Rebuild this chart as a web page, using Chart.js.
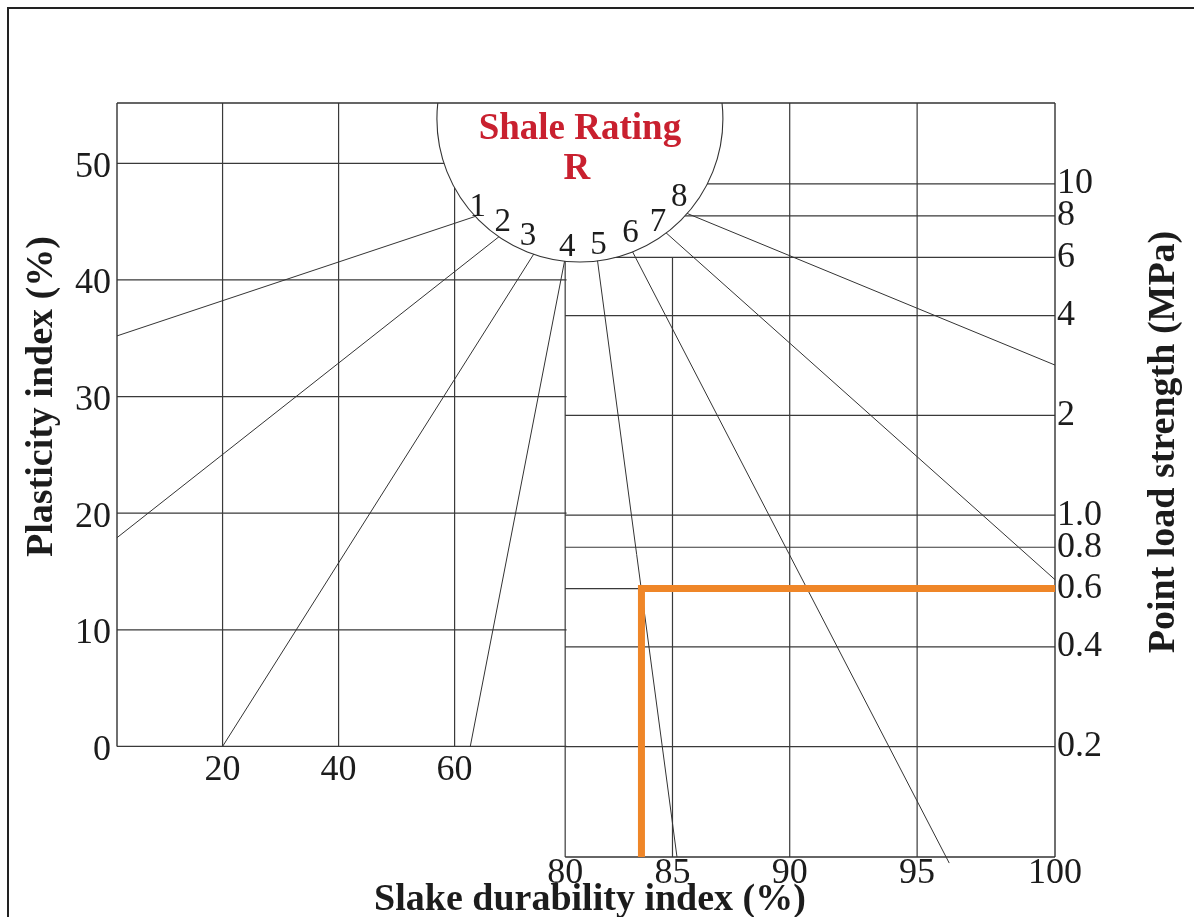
<!DOCTYPE html>
<html>
<head>
<meta charset="utf-8">
<title>Shale rating chart</title>
<script src="https://cdn.jsdelivr.net/npm/chart.js@4.4.1/dist/chart.umd.min.js"></script>
<style>
  html, body { margin: 0; padding: 0; background: #fff; overflow: hidden; }
  #wrap { position: relative; width: 1194px; height: 917px; }
  #frame { position: absolute; left: 7px; top: 7px; right: -6px; bottom: -6px;
           border-left: 2px solid #222; border-top: 2px solid #222; pointer-events: none; }
</style>
</head>
<body>
<div id="wrap">
  <canvas id="shaleChart" width="1194" height="917"></canvas>
  <div id="frame"></div>
</div>
<script>
// values
const piTicks = [0, 10, 20, 30, 40, 50];                  // plasticity index (%)
const slakeTicksLeft = [20, 40, 60];                       // slake durability, compressed part
const slakeTicksRight = [80, 85, 90, 95, 100];             // slake durability, expanded part
const pointLoadTicks = [0.2, 0.4, 0.6, 0.8, 1.0, 2, 4, 6, 8, 10];   // MPa
const pointLoadLabels = ['0.2', '0.4', '0.6', '0.8', '1.0', '2', '4', '6', '8', '10'];

// axis ranges of the drawing
const slakeLeftRange = [1.8, 163.5];
const slakeRightRange = [50.5, 100];
const piRange = [-9.48, 55.17];
const pointLoadRange = [0.0929, 17.54];

// shale rating R = 1..8 : lines from the arc to the axes
// R 1-4 are on the left slake scale, R 5-8 on the right one
const ratings = [1, 2, 3, 4, 5, 6, 7, 8];
const ratingStart = [[63.9, 45.5], [68.4, 44.0], [74.0, 42.5], [79.1, 42.0],
                     [81.5, 42.4], [83.0, 43.1], [84.5, 44.4], [85.4, 45.9]];
const ratingEnd = [[1.8, 35.2], [1.8, 17.9], [20, 0], [62.7, 0],
                   [85.2, -9.48], [96.2, -10], [100, 14.3], [100, 32.7]];
const ratingLabelAt = [[64.0, 46.2], [68.3, 44.9], [72.65, 43.7], [79.4, 42.8],
                       [81.6, 43.0], [83.1, 44.0], [84.35, 44.9], [85.3, 47.1]];
const arcCentre = [81.6, 53.8];

// worked example (orange)
const exampleSlake = 83.6;
const examplePointLoad = 0.6;

const slakeWarp = 2.5;   // the expanded slake scale is not linear
const serif = "'Liberation Serif', 'Times New Roman', serif";

class PowerScale extends Chart.LinearScale {
  static id = 'power';
  static defaults = {};
  getPixelForValue(value) {
    if (value === null || value === undefined || isNaN(value)) return NaN;
    const a = Math.pow(this.min, slakeWarp), b = Math.pow(this.max, slakeWarp);
    return this.getPixelForDecimal((Math.pow(value, slakeWarp) - a) / (b - a));
  }
  getValueForPixel(pixel) {
    const a = Math.pow(this.min, slakeWarp), b = Math.pow(this.max, slakeWarp);
    return Math.pow(a + this.getDecimalForPixel(pixel) * (b - a), 1 / slakeWarp);
  }
}
Chart.register(PowerScale);

// list of [[x1,y1],[x2,y2]] -> one dataset with gaps
function segments(list) {
  const out = [];
  list.forEach(s => {
    out.push({x: s[0][0], y: s[0][1]}, {x: s[1][0], y: s[1][1]}, {x: null, y: null});
  });
  return out;
}

const leftEdge = slakeLeftRange[0];
const piTop = piRange[1], piBottom = piRange[0];
const leftPanelEnd = 79.3;   // plasticity lines stop at the 80 % divider

const gridLeft = segments(
  piTicks.map(v => [[leftEdge, v], [leftPanelEnd, v]])
    .concat(slakeTicksLeft.map(v => [[v, 0], [v, piTop]]))
);
const gridRightTall = segments(
  slakeTicksRight.filter(v => v !== 85 && v !== 100).map(v => [[v, piBottom], [v, piTop]])
);
const gridRightShort = segments([[[85, pointLoadRange[0]], [85, 6]]]);
const gridPointLoad = segments(pointLoadTicks.map(v => [[80, v], [100, v]]));

const ratingLeft = segments(ratings.slice(0, 4).map((r, i) => [ratingStart[i], ratingEnd[i]]));
const ratingRight = segments(ratings.slice(4).map((r, i) => [ratingStart[i + 4], ratingEnd[i + 4]]));

const frameLeft = segments([
  [[leftEdge, 0], [leftEdge, piTop]],
  [[leftEdge, piTop], [slakeLeftRange[1], piTop]],
  [[slakeLeftRange[1], piTop], [slakeLeftRange[1], piBottom]]
]);
const frameRight = segments([[[80, piBottom], [100, piBottom]]]);

function lineSet(data, xId, yId, order, extra) {
  return Object.assign({
    data: data, xAxisID: xId, yAxisID: yId, order: order,
    showLine: true, spanGaps: false, pointRadius: 0,
    borderColor: '#3a3a3a', borderWidth: 1.2, fill: false
  }, extra || {});
}

const textPlugin = {
  id: 'nomogramText',
  afterDatasetsDraw(chart) {
    const {ctx, chartArea, scales} = chart;
    const {x, x2, y} = scales;
    ctx.save();
    ctx.textAlign = 'center';
    ctx.textBaseline = 'middle';

    // rating numbers round the arc
    ctx.fillStyle = '#1c1c1c';
    ctx.font = '33px ' + serif;
    ratings.forEach((r, i) => {
      const sx = i < 4 ? x : x2;
      ctx.fillText(String(r), sx.getPixelForValue(ratingLabelAt[i][0]), y.getPixelForValue(ratingLabelAt[i][1]));
    });

    // left slake labels sit under the plasticity panel
    ctx.font = '36px ' + serif;
    slakeTicksLeft.forEach(v => {
      ctx.fillText(String(v), x.getPixelForValue(v), y.getPixelForValue(0) + 24);
    });

    // Shale Rating R
    ctx.fillStyle = '#c9202f';
    ctx.font = 'bold 37px ' + serif;
    const cx = x.getPixelForValue(arcCentre[0]);
    ctx.fillText('Shale Rating', cx, chartArea.top + 26);
    ctx.fillText('R', cx - 3, chartArea.top + 66);

    // axis titles
    ctx.fillStyle = '#1c1c1c';
    ctx.font = 'bold 38px ' + serif;
    ctx.textBaseline = 'alphabetic';
    ctx.fillText('Slake durability index (%)', (chartArea.left + chartArea.right) / 2 + 4, chartArea.bottom + 53);

    ctx.save();
    ctx.translate(chartArea.left - 65, y.getPixelForValue(30));
    ctx.rotate(-Math.PI / 2);
    ctx.fillText('Plasticity index (%)', 0, 0);
    ctx.restore();

    ctx.save();
    ctx.translate(chartArea.right + 119, chartArea.top + 339);
    ctx.rotate(-Math.PI / 2);
    ctx.fillText('Point load strength (MPa)', 0, 0);
    ctx.restore();

    ctx.restore();
  }
};

const tickFont = {family: serif, size: 36};

new Chart(document.getElementById('shaleChart'), {
  type: 'scatter',
  data: {
    datasets: [
      lineSet(frameLeft, 'x', 'y', 3, {clip: 3, borderColor: '#333', borderWidth: 1.4}),
      lineSet(frameRight, 'x2', 'y', 3, {clip: 3, borderColor: '#333', borderWidth: 1.4}),
      {
        data: [{x: arcCentre[0], y: arcCentre[1]}], xAxisID: 'x', yAxisID: 'y', order: 4,
        showLine: false, clip: 0, pointRadius: 143, pointStyle: 'circle',
        pointBackgroundColor: '#fff', pointBorderColor: '#333', pointBorderWidth: 1.1
      },
      lineSet(ratingLeft, 'x', 'y', 5, {borderColor: '#333', borderWidth: 1}),
      lineSet(ratingRight, 'x2', 'y', 5, {borderColor: '#333', borderWidth: 1, clip: false}),
      lineSet(gridLeft, 'x', 'y', 6),
      lineSet(gridRightTall, 'x2', 'y', 6),
      lineSet(gridRightShort, 'x2', 'y2', 6),
      lineSet(gridPointLoad, 'x2', 'y2', 6),
      lineSet([
        {x: exampleSlake, y: pointLoadRange[0]},
        {x: exampleSlake, y: examplePointLoad},
        {x: 100, y: examplePointLoad}
      ], 'x2', 'y2', 1, {borderColor: '#ef8628', borderWidth: 7, borderJoinStyle: 'miter', clip: 4})
    ]
  },
  options: {
    responsive: false,
    animation: false,
    events: [],
    layout: {autoPadding: false, padding: {top: 103, left: 0, right: 0, bottom: 0}},
    plugins: {legend: {display: false}, tooltip: {enabled: false}},
    scales: {
      x: {
        type: 'linear', position: 'bottom', display: false,
        min: slakeLeftRange[0], max: slakeLeftRange[1]
      },
      x2: {
        type: 'power', position: 'bottom',
        min: slakeRightRange[0], max: slakeRightRange[1], bounds: 'data',
        grid: {display: false, drawTicks: false}, border: {display: false},
        afterBuildTicks: s => { s.ticks = slakeTicksRight.map(v => ({value: v})); },
        afterFit: s => { s.height = 60; },
        ticks: {autoSkip: false, maxRotation: 0, padding: -5, color: '#1c1c1c', font: tickFont,
                callback: v => String(v)}
      },
      y: {
        type: 'linear', position: 'left',
        min: piRange[0], max: piRange[1], bounds: 'data',
        grid: {display: false, drawTicks: false}, border: {display: false},
        afterBuildTicks: s => { s.ticks = piTicks.map(v => ({value: v})); },
        afterFit: s => { s.width = 117; },
        ticks: {autoSkip: false, padding: 6, labelOffset: 4, color: '#1c1c1c', font: tickFont,
                callback: v => String(v)}
      },
      y2: {
        type: 'logarithmic', position: 'right',
        min: pointLoadRange[0], max: pointLoadRange[1], bounds: 'data',
        grid: {display: false, drawTicks: false}, border: {display: false},
        afterBuildTicks: s => { s.ticks = pointLoadTicks.map(v => ({value: v})); },
        afterFit: s => { s.width = 139; },
        ticks: {autoSkip: false, padding: 2, color: '#1c1c1c', font: tickFont,
                callback: (v, i) => pointLoadLabels[i]}
      }
    }
  },
  plugins: [textPlugin]
});
</script>
</body>
</html>
